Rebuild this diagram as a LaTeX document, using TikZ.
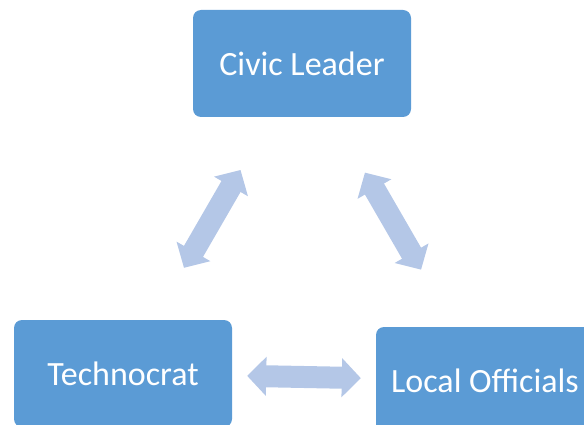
\documentclass[tikz,border=0pt]{standalone}
\usepackage{fontspec}
\setmainfont{Carlito}
\usepackage{xcolor}
\usetikzlibrary{arrows.meta}
\definecolor{boxblue}{HTML}{5B9BD5}
\definecolor{arrowblue}{HTML}{B4C7E7}
\begin{document}
\begin{tikzpicture}[x=1pt,y=-1pt]
\tikzstyle{role}=[rectangle, rounded corners=8pt, fill=boxblue, text=white,
  minimum width=218pt, minimum height=107pt, inner sep=0pt,
  font=\fontsize{34}{40}\selectfont]
\tikzstyle{link}=[arrowblue, line width=22pt,
  {Triangle[length=19pt,width=38pt]}-{Triangle[length=19pt,width=38pt]}]
\useasboundingbox (0,0) rectangle (584,425);
\clip (0,0) rectangle (584,425);
\node [role] (civic) at (302,63.5) {Civic Leader};
\node [role] (tech) at (123,373.5) {Technocrat};
\node [role] (local) at (485,380.5) {Local Officials};
\draw [link, shorten <=60pt, shorten >=61pt] (tech) -- (civic);
\draw [link, shorten <=64pt, shorten >=66pt] (civic) -- (local);
\draw [link, shorten <=15pt, shorten >=15pt] (tech) -- (local);
\end{tikzpicture}
\end{document}
